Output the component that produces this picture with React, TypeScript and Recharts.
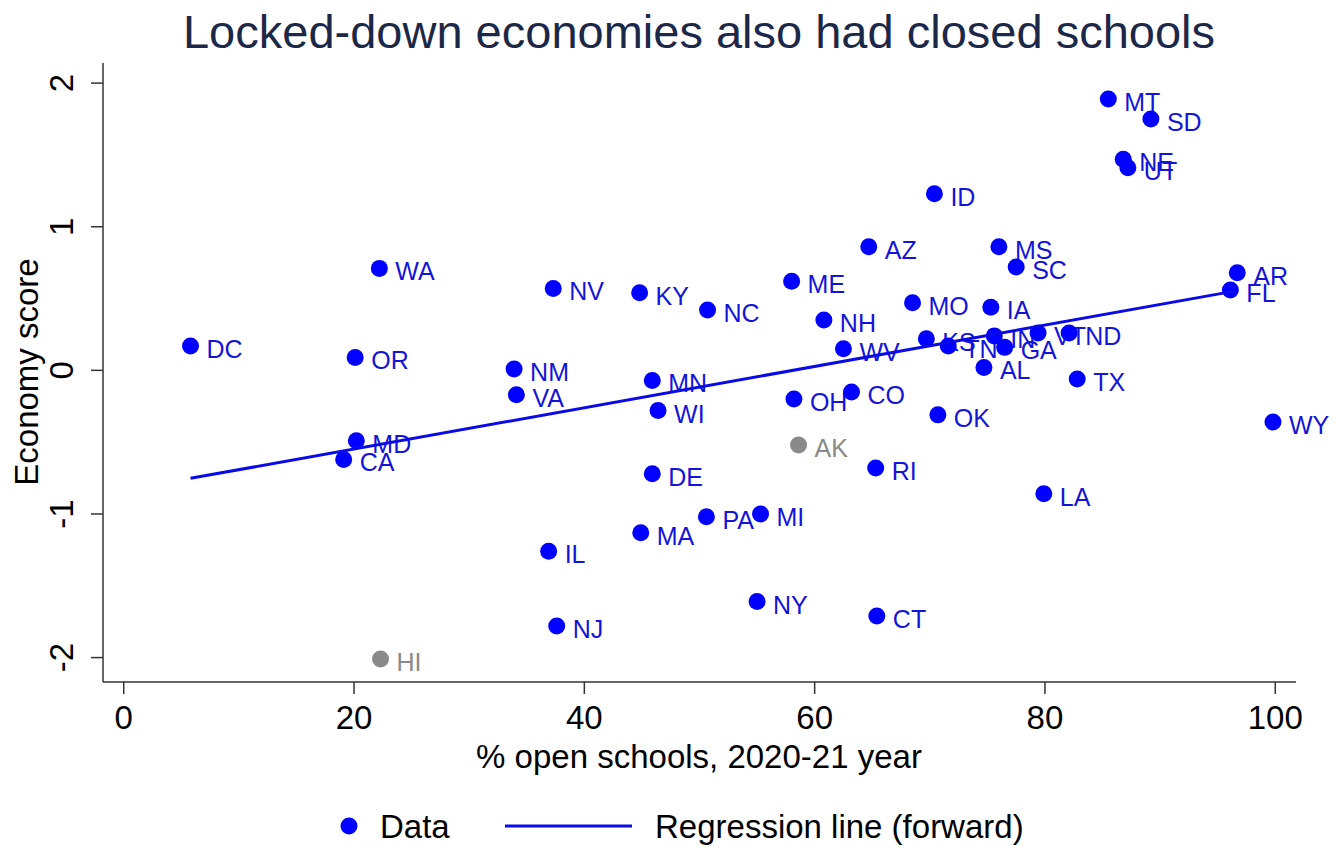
import React from 'react';
import { ScatterChart, Scatter, XAxis, YAxis } from 'recharts';

const states = ['DC','WA','OR','MD','CA','NV','NM','VA','KY','NC','MN','WI','DE','ME','NH','WV','OH','CO','AK','RI','AZ','MO','IA','KS','TN','IN','GA','VT','ND','AL','TX','OK','LA','WY','AR','FL','MS','SC','ID','MT','SD','NE','UT','MA','PA','MI','IL','NY','CT','NJ','HI'];
const openPct = [5.8,22.2,20.1,20.2,19.1,37.3,33.9,34.1,44.8,50.7,45.9,46.4,45.9,58.0,60.8,62.5,58.2,63.2,58.6,65.3,64.7,68.5,75.3,69.7,71.6,75.6,76.5,79.4,82.1,74.7,82.8,70.7,79.9,99.8,96.7,96.1,76.0,77.5,70.4,85.5,89.2,86.8,87.2,44.9,50.6,55.3,36.9,55.0,65.4,37.6,22.3];
const econScore = [0.17,0.71,0.09,-0.49,-0.62,0.57,0.01,-0.17,0.54,0.42,-0.07,-0.28,-0.72,0.62,0.35,0.15,-0.20,-0.15,-0.52,-0.68,0.86,0.47,0.44,0.22,0.17,0.24,0.16,0.26,0.26,0.02,-0.06,-0.31,-0.86,-0.36,0.68,0.56,0.86,0.72,1.23,1.89,1.75,1.47,1.41,-1.13,-1.02,-1.00,-1.26,-1.61,-1.71,-1.78,-2.01];
const excludedStates = ['AK', 'HI'];
const xTicks = [0, 20, 40, 60, 80, 100];
const yTicks = [-2, -1, 0, 1, 2];
const regX = [5.8, 96.7];
const regY = [-0.752, 0.555];

const points = states.map((s, i) => ({ state: s, x: openPct[i], y: econScore[i], excluded: excludedStates.includes(s) }));
const regLine = regX.map((x, i) => ({ x, y: regY[i] }));

const FONT = '"Liberation Sans", Arial, Helvetica, sans-serif';

function StateDot(props: any) {
  const { cx, cy, payload } = props;
  if (cx == null || cy == null) return <g />;
  const col = payload.excluded ? '#8a8a8a' : '#0000ff';
  const tcol = payload.excluded ? '#8a8a8a' : '#1414d6';
  return (
    <g>
      <circle cx={cx} cy={cy} r={8.5} fill={col} />
      <text x={cx + 16} y={cy + 12} fontSize={25} fill={tcol} fontFamily={FONT}>{payload.state}</text>
    </g>
  );
}

function XTick(props: any) {
  const { x, payload } = props;
  return <text x={x} y={729} textAnchor="middle" fontSize={33} fill="#000" fontFamily={FONT}>{payload.value}</text>;
}

function YTick(props: any) {
  const { y, payload } = props;
  return <text x={73} y={y} transform={`rotate(-90 73 ${y})`} textAnchor="middle" fontSize={33} fill="#000" fontFamily={FONT}>{payload.value}</text>;
}

export default function App() {
  return (
    <div style={{ position: 'absolute', left: 0, top: 0, width: 1344, height: 848, background: '#fff' }}>
      <ScatterChart width={1344} height={848} margin={{ top: 63, right: 48, bottom: 0, left: 0 }} style={{ overflow: 'visible' }}>
        <XAxis type="number" dataKey="x" domain={[-1.8, 101.8]} ticks={xTicks} tickSize={12}
          axisLine={{ stroke: '#333', strokeWidth: 1.5 }} tickLine={{ stroke: '#333', strokeWidth: 1.5 }} tick={<XTick />} height={166} />
        <YAxis type="number" dataKey="y" domain={[-2.17, 2.14]} ticks={yTicks} tickSize={12}
          axisLine={{ stroke: '#333', strokeWidth: 1.5 }} tickLine={{ stroke: '#333', strokeWidth: 1.5 }} tick={<YTick />} width={103} />
        <Scatter data={points} shape={<StateDot />} isAnimationActive={false} />
        <Scatter data={regLine} line={{ stroke: '#0a0ae6', strokeWidth: 3 }} shape={() => <g />} isAnimationActive={false} />
      </ScatterChart>
      <svg width={1344} height={848} style={{ position: 'absolute', left: 0, top: 0, pointerEvents: 'none' }}>
        <text x={699} y={48} textAnchor="middle" fontSize={47} fill="#1c2848" fontFamily={FONT}>Locked-down economies also had closed schools</text>
        <text x={699} y={768} textAnchor="middle" fontSize={33} fill="#000" fontFamily={FONT}>% open schools, 2020-21 year</text>
        <text x={38} y={372} transform="rotate(-90 38 372)" textAnchor="middle" fontSize={33} fill="#000" fontFamily={FONT}>Economy score</text>
        <circle cx={349} cy={826} r={8.5} fill="#0000ff" />
        <text x={380} y={838} fontSize={33} fill="#000" fontFamily={FONT}>Data</text>
        <line x1={505} y1={826} x2={632} y2={826} stroke="#0a0ae6" strokeWidth={3} />
        <text x={655} y={838} fontSize={33} fill="#000" fontFamily={FONT}>Regression line (forward)</text>
      </svg>
    </div>
  );
}
